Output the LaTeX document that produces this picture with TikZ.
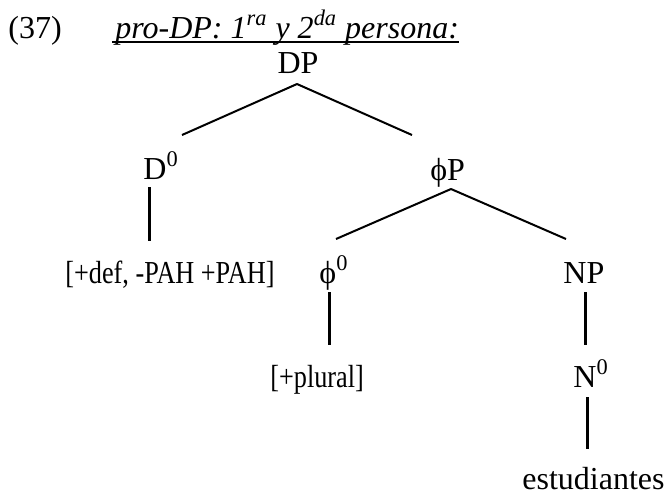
\documentclass[tikz,border=0pt]{standalone}
\usepackage{fontspec}
\setmainfont{Liberation Serif}
\newfontfamily\featfont[FakeStretch=0.82]{Liberation Serif}
\usepackage{tikz}
\tikzset{
  cat/.style={inner sep=0pt, font=\fontsize{16}{19}\selectfont},
  feat/.style={inner sep=0pt, font=\featfont\fontsize{16}{19}\selectfont},
  branch/.style={line width=1pt, color=black},
  stem/.style={line width=1.5pt, color=black}
}

\begin{document}
\begin{tikzpicture}[x=0.5pt, y=-0.5pt]
  \useasboundingbox (0,0) rectangle (667,493);

  % Example number and heading
  \node[cat, anchor=base west] (exnum) at (8,38) {(37)};
  \node[cat, anchor=base west] (title) at (115,38) {\itshape pro-DP: 1\textsuperscript{ra} y 2\textsuperscript{da} persona:};
  \draw[branch] ([shift={(-3,4)}]title.base west) -- ([shift={(0,4)}]title.base east);

  % Tree nodes
  \node[cat, anchor=base] (DP) at (298,73) {DP};
  \node[cat, anchor=base west] (D0) at (143,179) {D\textsuperscript{0}};
  \node[cat, anchor=base west] (phiP) at (430,180) {ϕP};
  \node[feat, anchor=base west] (feats) at (65,283) {[+def, -PAH +PAH]};
  \node[cat, anchor=base west] (phi0) at (319,283) {ϕ\textsuperscript{0}};
  \node[cat, anchor=base west] (NP) at (563,283) {NP};
  \node[feat, anchor=base west] (plural) at (270,387) {[+plural]};
  \node[cat, anchor=base west] (N0) at (573,387) {N\textsuperscript{0}};
  \node[cat, anchor=base east] (word) at (665,489) {estudiantes};

  % Branches
  \draw[branch] ([shift={(-1,11)}]DP.base) -- ([shift={(39,-44)}]D0.base west);
  \draw[branch] ([shift={(-1,11)}]DP.base) -- ([shift={(-18,-45)}]phiP.base west);
  \draw[branch] ([shift={(21,9)}]phiP.base west) -- ([shift={(17,-44)}]phi0.base west);
  \draw[branch] ([shift={(21,9)}]phiP.base west) -- ([shift={(3,-44)}]NP.base west);

  % Vertical stems
  \draw[stem] ([shift={(6,8)}]D0.base west) -- ([shift={(84,-42)}]feats.base west);
  \draw[stem] ([shift={(10,9)}]phi0.base west) -- ([shift={(59,-42)}]plural.base west);
  \draw[stem] ([shift={(22,9)}]NP.base west) -- ([shift={(12,-42)}]N0.base west);
  \draw[stem] ([shift={(14,10)}]N0.base west) -- ([shift={(-78,-40)}]word.base east);
\end{tikzpicture}
\end{document}
